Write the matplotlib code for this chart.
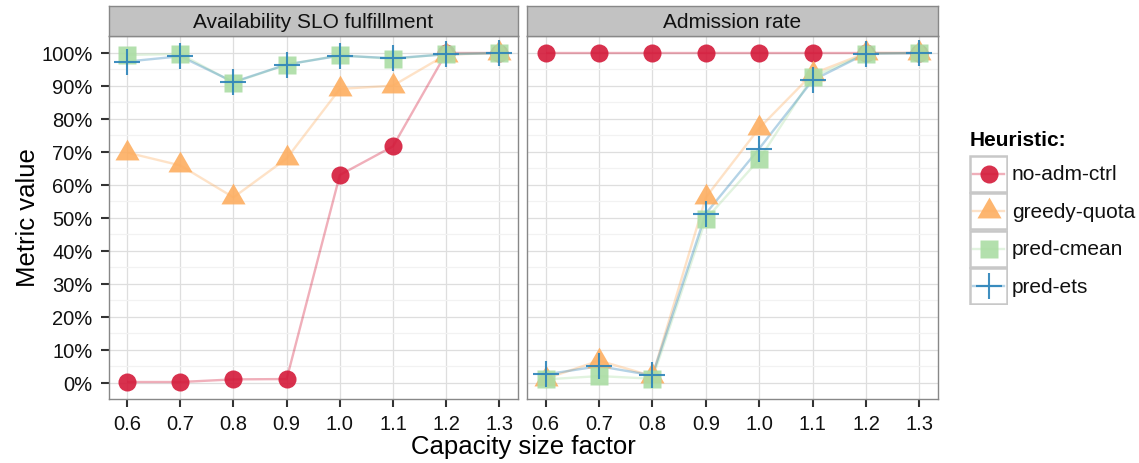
#!/usr/bin/env python3
"""
Metric value vs. capacity size factor for the admission-control heuristics,
one panel for availability SLO fulfillment and one for admission rate.
"""
import matplotlib
matplotlib.use('Agg')
import matplotlib.pyplot as plt
from matplotlib.patches import Rectangle
from matplotlib.ticker import FixedLocator, FuncFormatter

plt.rcParams['font.family'] = ['Liberation Sans', 'DejaVu Sans']

W, H = 1139, 464

factors = [0.6, 0.7, 0.8, 0.9, 1.0, 1.1, 1.2, 1.3]
factor_labels = ['0.6', '0.7', '0.8', '0.9', '1.0', '1.1', '1.2', '1.3']

heuristics = ['no-adm-ctrl', 'greedy-quota', 'pred-cmean', 'pred-ets']
panel_titles = ['Availability SLO fulfillment', 'Admission rate']

# availability SLO fulfillment (%)
slo_no_adm = [0.2, 0.2, 1.0, 1.1, 63.0, 71.7, 100.0, 100.0]
slo_greedy = [69.8, 65.9, 56.2, 68.0, 89.1, 90.1, 99.5, 100.0]
slo_cmean = [99.4, 99.7, 91.0, 96.5, 99.3, 98.2, 99.7, 100.0]
slo_ets = [97.4, 99.0, 91.2, 96.5, 99.2, 98.4, 99.6, 100.0]

# admission rate (%)
adm_no_adm = [100.0, 100.0, 100.0, 100.0, 100.0, 100.0, 100.0, 100.0]
adm_greedy = [1.2, 6.7, 2.0, 56.2, 77.2, 93.7, 100.0, 100.0]
adm_cmean = [1.0, 2.0, 1.2, 49.6, 67.7, 92.7, 99.8, 100.0]
adm_ets = [2.5, 5.0, 2.2, 51.3, 71.0, 91.7, 99.8, 100.0]

panels = [
    [slo_no_adm, slo_greedy, slo_cmean, slo_ets],
    [adm_no_adm, adm_greedy, adm_cmean, adm_ets],
]

# Spectral-ish palette, ggplot-like shapes
colors = ['#D41A3A', '#FDAE61', '#ABDDA4', '#2B83BA']
tri = [(0, 1), (-0.866, -0.5), (0.866, -0.5)]
styles = [
    dict(marker='o', markersize=13, mec='none'),
    dict(marker=tri, markersize=20, mec='none'),
    dict(marker='s', markersize=13.5, mec='none'),
    dict(marker='+', markersize=19, mew=1.5),
]


def px_rect(x0, y0, x1, y1):
    return [x0 / W, 1 - y1 / H, (x1 - x0) / W, (y1 - y0) / H]


def draw_points(ax, xs, ys, i):
    st = styles[i]
    if st['marker'] == '+':
        ax.plot(xs, ys, ls='none', color=colors[i], alpha=0.9,
                marker='+', markersize=st['markersize'], mew=st['mew'],
                zorder=3)
    else:
        ax.plot(xs, ys, ls='none', marker=st['marker'],
                markersize=st['markersize'], mfc=colors[i], mec='none',
                alpha=0.9, zorder=3)


fig = plt.figure(figsize=(W / 100, H / 100), dpi=100)

panel_x = [(108.5, 518), (527, 938)]
top, bottom = 37, 399.5
strip_top = 7

for k, (x0, x1) in enumerate(panel_x):
    ax = fig.add_axes(px_rect(x0, top, x1, bottom))
    # lines first, then all points on top
    for i, name in enumerate(heuristics):
        vals = [v / 100 for v in panels[k][i]]
        ax.plot(factors, vals, color=colors[i], lw=1.7, alpha=0.35,
                zorder=2, solid_capstyle='butt')
    for i, name in enumerate(heuristics):
        vals = [v / 100 for v in panels[k][i]]
        draw_points(ax, factors, vals, i)

    ax.set_xlim(0.565, 1.335)
    ax.set_ylim(-0.048, 1.0515)
    ax.xaxis.set_major_locator(FixedLocator(factors))
    ax.set_xticklabels(factor_labels)
    ax.yaxis.set_major_locator(FixedLocator([i / 10 for i in range(11)]))
    ax.yaxis.set_minor_locator(FixedLocator([i / 10 + 0.05 for i in range(10)]))
    ax.yaxis.set_major_formatter(FuncFormatter(lambda v, p: f'{v * 100:.0f}%'))
    ax.grid(True, which='major', color='#DEDEDE', lw=0.9, zorder=0)
    ax.grid(True, which='minor', axis='y', color='#F2F2F2', lw=0.9, zorder=0)
    ax.set_axisbelow(True)
    ax.tick_params(which='major', length=5.5, width=1.5, color='#333333',
                   labelsize=14.5, labelcolor='#111111', pad=6)
    ax.tick_params(which='minor', length=0)
    if k == 1:
        ax.tick_params(axis='y', which='major', left=False, labelleft=False)
    for sp in ax.spines.values():
        sp.set_color('#888888')
        sp.set_linewidth(1.0)

    # facet strip
    sax = fig.add_axes(px_rect(x0, strip_top, x1, top))
    sax.set_xticks([])
    sax.set_yticks([])
    sax.set_facecolor('#C2C2C2')
    for sp in sax.spines.values():
        sp.set_color('#888888')
        sp.set_linewidth(1.0)
    sax.text(0.5, 0.47, panel_titles[k], ha='center', va='center',
             fontsize=15, color='#111111', transform=sax.transAxes)

fig.text(28 / W, 1 - 218 / H, 'Metric value', rotation=90, ha='center',
         va='center', fontsize=18.5)
fig.text(523 / W, 1 - 447 / H, 'Capacity size factor', ha='center',
         va='center', fontsize=18.5)

# legend drawn as boxed keys
lax = fig.add_axes(px_rect(969, 156, 1008, 306))
lax.set_xlim(0, 1)
lax.set_ylim(len(heuristics), 0)
lax.axis('off')
for i, name in enumerate(heuristics):
    lax.add_patch(Rectangle((0.02, i + 0.02), 0.96, 0.96, fc='white',
                            ec='#C8C8C8', lw=1.8, zorder=1))
    lax.plot([0.1, 0.9], [i + 0.5, i + 0.5], color=colors[i], lw=1.7,
             alpha=0.35, zorder=2)
    draw_points(lax, [0.5], [i + 0.5], i)
    fig.text(1012 / W, 1 - (156 + 37.5 * (i + 0.5)) / H, name,
             ha='left', va='center', fontsize=15, color='#111111')

fig.text(970 / W, 1 - 141 / H, 'Heuristic:', ha='left', va='center',
         fontsize=15, fontweight='bold')

fig.savefig('out.png', dpi=100)
